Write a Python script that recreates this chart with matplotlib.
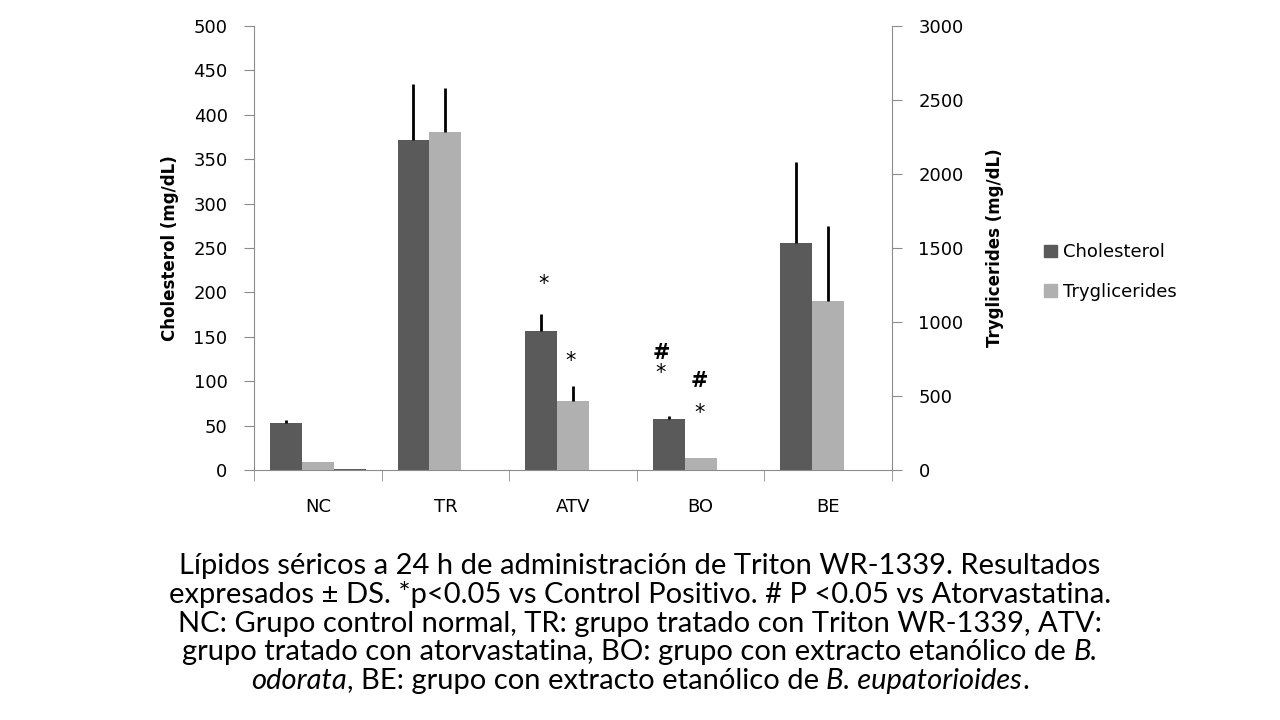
import numpy as np
import matplotlib
matplotlib.use("Agg")
import matplotlib.pyplot as plt
from matplotlib import font_manager

# data (left scale mg/dL for cholesterol, right scale for TG)
groups = ["NC", "TR", "ATV", "BO", "BE"]
chol = [53, 372, 156, 57, 256]
chol_err = [3, 63, 20, 4, 91]
trig = [56, 2285, 467, 79, 1144]
trig_err = [0, 294, 102, 0, 504]
extra = [1.5, 0, 0, 0, 0]  # tiny third bar in NC

# significance marks: (label, x in group units, y in cholesterol units)
marks = [("*", 1.77, 210), ("*", 1.98, 123),
         ("#", 2.69, 132), ("*", 2.69, 109),
         ("#", 2.99, 100), ("*", 2.99, 64)]

caption = [
    [("Lípidos séricos a 24 h de administración de Triton WR-1339. Resultados", "normal")],
    [("expresados ± DS. *p<0.05 vs Control Positivo. # P <0.05 vs Atorvastatina.", "normal")],
    [("NC: Grupo control normal, TR: grupo tratado con Triton WR-1339, ATV:", "normal")],
    [("grupo tratado con atorvastatina, BO: grupo con extracto etanólico de ", "normal"),
     ("B.", "italic")],
    [("odorata", "italic"), (", BE: grupo con extracto etanólico de ", "normal"),
     ("B. eupatorioides", "italic"), (".", "normal")],
]

dark = "#5a5a5a"
light = "#b0b0b0"
spine = "#8c8c8c"

names = {f.name for f in font_manager.fontManager.ttflist}
cap_font = "Liberation Sans Narrow" if "Liberation Sans Narrow" in names else "Lato"

fig = plt.figure(figsize=(12.8, 7.2), dpi=100)
ax = fig.add_axes([0.1984, 0.3472, 0.4985, 0.6167])
ax2 = ax.twinx()

x = np.arange(len(groups))
w = 0.25
ax.bar(x - w, chol, w, color=dark, zorder=2)
ax.errorbar(x - w, chol, yerr=[np.zeros(len(chol)), chol_err], fmt="none",
            ecolor="black", elinewidth=2, capsize=0, zorder=3)
ax.bar(x + w, extra, w, color=dark, zorder=2)
ax2.bar(x, trig, w, color=light, zorder=2)
ax2.errorbar(x, trig, yerr=[np.zeros(len(trig)), trig_err], fmt="none",
             ecolor="black", elinewidth=2, capsize=0, zorder=3)

for lab, xm, ym in marks:
    ax.text(xm, ym, lab, ha="center", va="center", fontsize=15,
            fontweight="bold" if lab == "#" else "normal")

ax.set_xlim(-0.5, len(groups) - 0.5)
ax.set_ylim(0, 500)
ax2.set_ylim(0, 3000)
ax.set_yticks(np.arange(0, 501, 50))
ax2.set_yticks(np.arange(0, 3001, 500))
ax.set_xticks(x)
ax.set_xticklabels(groups)
ax.set_xticks(np.arange(-0.5, len(groups), 1), minor=True)
ax.tick_params(axis="x", which="major", length=0, pad=20, labelsize=13)
ax.tick_params(axis="x", which="minor", length=8, color=spine, direction="out")
ax.tick_params(axis="y", length=7, color=spine, pad=12, labelsize=13)
ax2.tick_params(axis="y", length=7, color=spine, pad=12, labelsize=13)

for a in (ax, ax2):
    a.spines["top"].set_visible(False)
    for s in ("left", "right", "bottom"):
        a.spines[s].set_color(spine)
ax.spines["right"].set_visible(False)
ax2.spines["left"].set_visible(False)
ax2.spines["bottom"].set_visible(False)

ax.set_ylabel("Cholesterol (mg/dL)", fontsize=12, fontweight="bold", labelpad=10)
ax2.set_ylabel("Tryglicerides (mg/dL)", fontsize=12, fontweight="bold", labelpad=16)

# legend
h1 = plt.Rectangle((0, 0), 1, 1, color=dark)
h2 = plt.Rectangle((0, 0), 1, 1, color=light)
fig.legend([h1, h2], ["Cholesterol", "Tryglicerides"], loc="center left",
           bbox_to_anchor=(0.803, 0.622), frameon=False, fontsize=13,
           handlelength=0.7, handleheight=0.7, handletextpad=0.35, labelspacing=1.2)

# caption with mixed italic segments, centred line by line
fig.canvas.draw()
r = fig.canvas.get_renderer()

# size the caption so the first line is about as wide as in the reference
probe = fig.text(0, 0, caption[0][0][0], fontsize=20, family=cap_font)
cap_size = 20 * 920 / probe.get_window_extent(renderer=r).width
probe.remove()

y0 = 566
for i, line in enumerate(caption):
    ypx = y0 + i * 28.8
    objs = []
    total = 0
    for txt, st in line:
        t = fig.text(0, 1 - ypx / 720, txt, fontsize=cap_size, family=cap_font, style=st,
                     va="center", ha="left")
        bb = t.get_window_extent(renderer=r)
        objs.append((t, bb.width))
        total += bb.width
    xs = 640 - total / 2
    for t, wd in objs:
        t.set_x(xs / 1280)
        xs += wd

fig.savefig("out.png", dpi=100)
